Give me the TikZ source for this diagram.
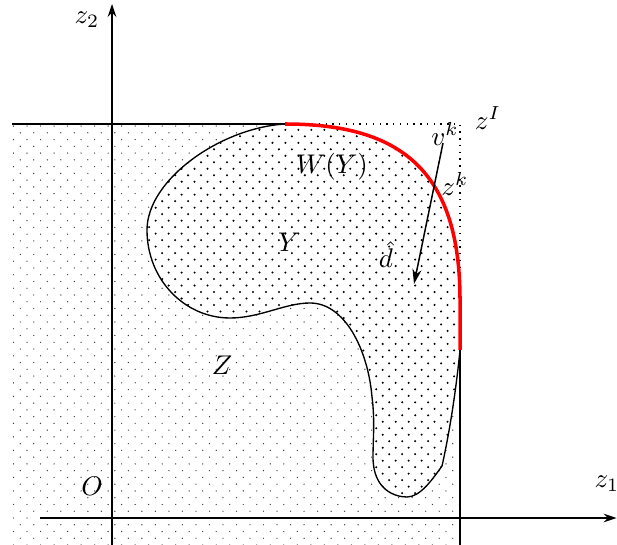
\documentclass[tikz,border=0pt]{standalone}
\usetikzlibrary{patterns,arrows.meta}
\pgfdeclarepatternformonly{zdots}{\pgfqpoint{-1pt}{-1pt}}{\pgfqpoint{6pt}{6pt}}{\pgfqpoint{5pt}{5pt}}{\pgfpathcircle{\pgfqpoint{0pt}{0pt}}{.26pt}\pgfpathcircle{\pgfqpoint{2.5pt}{2.5pt}}{.26pt}\pgfusepath{fill}}
\pgfdeclarepatternformonly{ydots}{\pgfqpoint{-1pt}{-1pt}}{\pgfqpoint{6pt}{6pt}}{\pgfqpoint{4.8pt}{4.8pt}}{\pgfpathcircle{\pgfqpoint{0pt}{0pt}}{.42pt}\pgfpathcircle{\pgfqpoint{2.4pt}{2.4pt}}{.42pt}\pgfusepath{fill}}
\tikzset{
  axis/.style={line width=0.55pt,-{Stealth[length=4.8pt,width=3.2pt]}},
  bnd/.style={line width=0.5pt},
  lbl/.style={inner sep=0pt},
}
\newcommand{\ypath}{(285,124) .. controls (220,128) and (147,180) .. (147,230)
  .. controls (147,280) and (185,318) .. (230,318)
  .. controls (260,318) and (285,303) .. (310,303)
  .. controls (345,303) and (368,350) .. (372,397)
  .. controls (375,420) and (373,440) .. (373,457)
  .. controls (373,490) and (395,497) .. (407,497)
  .. controls (420,497) and (432,480) .. (442,466)
  .. controls (450,430) and (456,390) .. (460,350)}
\begin{document}
\begin{tikzpicture}[x=0.37pt,y=-0.37pt]
\useasboundingbox (0,0) rectangle (617,545);
% key points
\coordinate (A) at (285,124);
\coordinate (B) at (460,350);
\coordinate (C) at (460,300);
\coordinate (I) at (460,124);
\coordinate (TL) at (12,124);
\coordinate (VB) at (460,545);
% Z region
\fill[pattern=zdots, pattern color=black!75] (10,124) -- (A) .. controls (400,124) and (460,170) .. (C) -- (VB) -- (10,545) -- cycle;
% Y region
\fill[white] \ypath -- (C) .. controls (460,170) and (400,124) .. (A) -- cycle;
\fill[pattern=ydots] \ypath -- (C) .. controls (460,170) and (400,124) .. (A) -- cycle;
\draw[bnd] \ypath;
% lines
\draw[bnd] (TL) -- (A);
\draw[bnd, dotted, line width=0.6pt] (A) -- (I) -- (B);
\draw[bnd] (B) -- (VB);
% axes
\coordinate (x0) at (40,518);
\coordinate (x1) at (616.5,518);
\coordinate (y0) at (112,545);
\coordinate (y1) at (112,4);
\draw[axis] (x0) -- (x1);
\draw[axis] (y0) -- (y1);
% red weakly efficient boundary
\draw[red, line width=1.3pt] (B) -- (C) .. controls (460,170) and (400,124) .. (A);
% direction arrow
\coordinate (dtop) at (443,143);
\coordinate (dtip) at (414,284);
\draw[line width=0.55pt,-{Stealth[length=5.5pt,width=3.4pt]}] (dtop) -- (dtip);
% labels
\node[lbl] (lz2) at (87,20) {$z_2$};
\node[lbl] (lz1) at (607,484) {$z_1$};
\node[lbl] (lO) at (92,486) {$O$};
\node[lbl] (lZ) at (222,365) {$Z$};
\node[lbl] (lY) at (289,242) {$Y$};
\node[lbl] (lW) at (332,167) {$W(Y)$};
\node[lbl] (lv) at (445,134) {$v^k$};
\node[lbl] (lzk) at (455,184) {$z^k$};
\node[lbl] (ld) at (386,255) {$\hat{d}$};
\node[lbl] (lzI) at (488,118) {$z^I$};
\end{tikzpicture}
\end{document}
